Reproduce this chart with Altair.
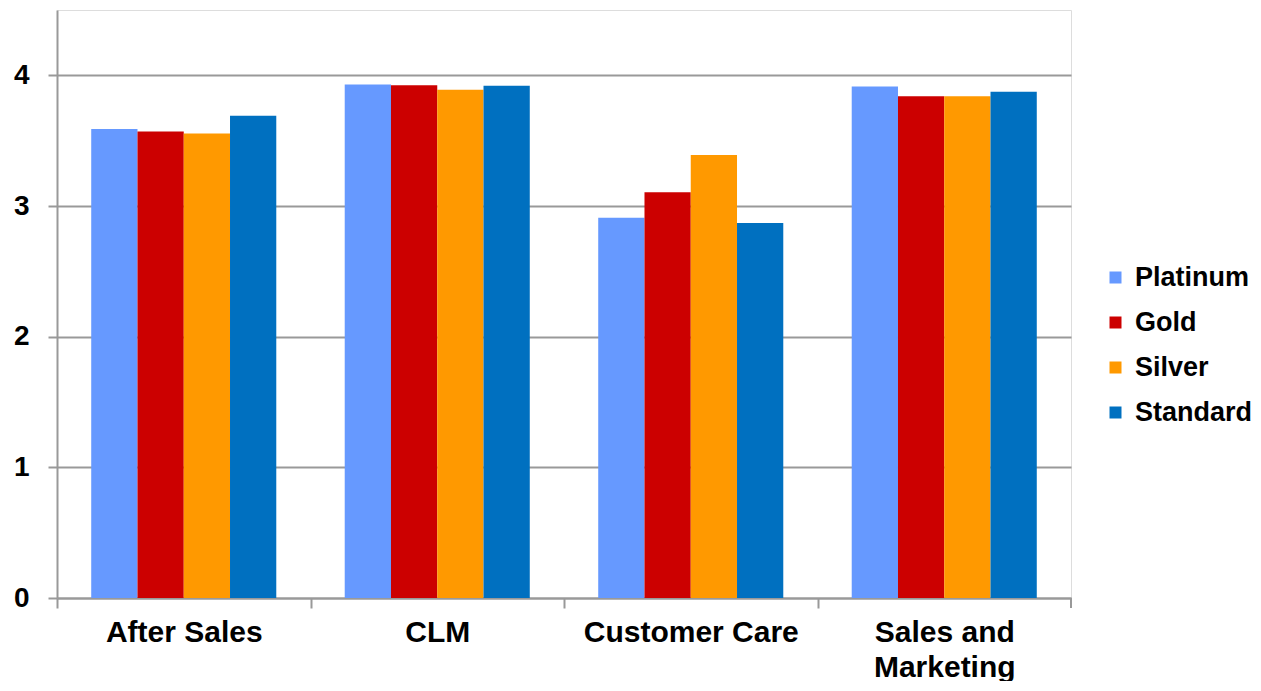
import altair as alt
import pandas as pd

categories = ["After Sales", "CLM", "Customer Care", "Sales and Marketing"]
series = ["Platinum", "Gold", "Silver", "Standard"]
platinum = [3.59, 3.93, 2.91, 3.915]
gold = [3.57, 3.925, 3.105, 3.84]
silver = [3.555, 3.89, 3.39, 3.84]
standard = [3.69, 3.92, 2.87, 3.875]
colors = ["#6699FF", "#CC0000", "#FF9900", "#0070C0"]

rows = []
for name, vals in zip(series, [platinum, gold, silver, standard]):
    for c, v in zip(categories, vals):
        rows.append({"category": c, "series": name, "value": v})
df = pd.DataFrame(rows)

FONT = "Liberation Sans"
W, H = 1014, 588
STEP = W / len(categories)

bars = alt.Chart(df).mark_bar().encode(
    x=alt.X(
        "category:N",
        sort=categories,
        title=None,
        scale=alt.Scale(paddingInner=0.27, paddingOuter=0.135),
        axis=alt.Axis(
            labelAngle=0,
            labelFont=FONT,
            labelFontSize=30,
            labelFontWeight="bold",
            labelColor="black",
            labelPadding=9,
            labelLineHeight=35,
            labelBaseline="top",
            labelLimit=400,
            labelExpr="datum.label == 'Sales and Marketing' ? ['Sales and', 'Marketing'] : datum.label",
            tickOffset=-STEP / 2,
            labelOffset=STEP / 2,
            tickSize=10,
            tickColor="#999999",
            tickWidth=2,
            domainColor="#999999",
            domainWidth=2,
            grid=False,
        ),
    ),
    xOffset=alt.XOffset("series:N", sort=series, scale=alt.Scale(paddingInner=0, paddingOuter=0)),
    y=alt.Y(
        "value:Q",
        title=None,
        scale=alt.Scale(domain=[0, 4.5], nice=False),
        axis=alt.Axis(
            values=[0, 1, 2, 3, 4],
            format="d",
            labelFont=FONT,
            labelFontSize=28,
            labelFontWeight="bold",
            labelColor="black",
            labelPadding=19,
            tickSize=9,
            tickColor="#999999",
            tickWidth=2,
            domainColor="#999999",
            domainWidth=2,
            gridColor="#999999",
            gridWidth=2,
        ),
    ),
    color=alt.Color(
        "series:N",
        sort=series,
        scale=alt.Scale(domain=series, range=colors),
        legend=alt.Legend(
            title=None,
            orient="none",
            legendX=1045,
            legendY=254,
            symbolType="square",
            symbolSize=144,
            symbolStrokeWidth=0,
            symbolOpacity=1,
            labelFont=FONT,
            labelFontSize=27,
            labelFontWeight="bold",
            labelColor="black",
            labelOffset=6,
            rowPadding=17,
            padding=0,
        ),
    ),
)

end_tick = alt.Chart(pd.DataFrame({"k": [0]})).mark_rule(color="#999999", strokeWidth=2).encode(
    x=alt.value(W), y=alt.value(H), y2=alt.value(H + 10)
)

chart = alt.layer(bars, end_tick).properties(
    width=W,
    height=H,
    padding={"left": 57, "top": 10, "right": 190, "bottom": 83},
    autosize=alt.AutoSizeParams(type="none"),
).configure_view(stroke=None).configure(background="white")

chart.save("out.html", embed_options={"renderer": "svg", "actions": False})
